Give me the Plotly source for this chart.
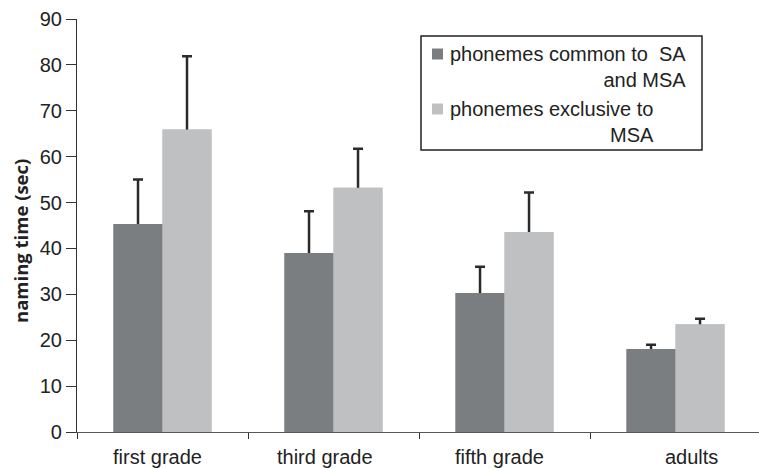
import plotly.graph_objects as go

categories = ["first grade", "third grade", "fifth grade", "adults"]
common_sa_msa = [45.3, 39.0, 30.3, 18.1]
common_err = [9.7, 9.1, 5.7, 0.9]
exclusive_msa = [65.9, 53.2, 43.6, 23.5]
exclusive_err = [16.0, 8.5, 8.6, 1.2]
series_names = ["phonemes common to\u00a0 SA<br>and MSA", "phonemes exclusive to<br>MSA"]
y_ticks = [0, 10, 20, 30, 40, 50, 60, 70, 80, 90]

DARK = "#7b7e80"
LIGHT = "#bfc0c2"
W, H = 759, 468
L, R, T, B = 77, 0, 19, 36
PW, PH = W - L - R, H - T - B


def px(x):
    return (x - L) / PW


def py(y):
    return (H - B - y) / PH


fig = go.Figure()
# error-bar carrier bars (the lower cap sits inside the bar and is hidden by the bar drawn on top)
for vals, errs, col, grp in [(common_sa_msa, common_err, DARK, "a"),
                             (exclusive_msa, exclusive_err, LIGHT, "b")]:
    fig.add_trace(go.Bar(
        x=categories, y=vals, marker_color=col, marker_line_width=0,
        offsetgroup=grp, hoverinfo="skip",
        error_y=dict(type="data", array=errs, arrayminus=[0.8] * len(errs),
                     symmetric=False, color="#2a2a2a", thickness=2.5, width=5),
    ))
fig.add_trace(go.Bar(x=categories, y=common_sa_msa, name="common", marker_color=DARK,
                     marker_line_width=0, offsetgroup="a"))
fig.add_trace(go.Bar(x=categories, y=exclusive_msa, name="exclusive", marker_color=LIGHT,
                     marker_line_width=0, offsetgroup="b"))

font_main = "Liberation Sans, Arial, sans-serif"

# x category labels as annotations (slight offsets as in the original)
label_shift = [-5, -9, -5, 16]
for cat, sh in zip(categories, label_shift):
    fig.add_annotation(x=cat, xref="x", y=0, yref="paper", yanchor="top",
                       yshift=-12, xshift=sh, text=cat, showarrow=False,
                       font=dict(family=font_main, size=20, color="#222"))

# y-axis title
fig.add_annotation(x=px(20), xref="paper", y=py(241), yref="paper",
                   text="<b>naming time (sec)</b>", textangle=-90,
                   showarrow=False, xanchor="center", yanchor="middle",
                   font=dict(family="Open Sans, sans-serif", size=18.5, color="#222"))

# manual legend
fig.add_shape(type="rect", xref="paper", yref="paper",
              x0=px(421), x1=px(702), y0=py(36), y1=py(150),
              line=dict(color="#222", width=1.5), fillcolor="white")
for (ycen, col, name) in [(54, DARK, series_names[0]), (109, LIGHT, series_names[1])]:
    fig.add_shape(type="rect", xref="paper", yref="paper",
                  x0=px(432), x1=px(443), y0=py(ycen - 5.5), y1=py(ycen + 5.5),
                  line=dict(width=0), fillcolor=col)
    fig.add_annotation(x=px(448), xref="paper", y=py(ycen + 13), yref="paper",
                       xanchor="left", yanchor="middle", align="right",
                       text=name, showarrow=False,
                       font=dict(family=font_main, size=20, color="#222"))

fig.update_layout(
    width=W, height=H,
    margin=dict(l=L, r=R, t=T, b=B, pad=0),
    paper_bgcolor="white", plot_bgcolor="white",
    barmode="group", bargap=0.427, bargroupgap=0,
    showlegend=False,
    font=dict(family=font_main, size=20, color="#222"),
)
fig.update_xaxes(
    type="category", range=[-0.5, 3.488], showgrid=False, zeroline=False,
    showline=True, linecolor="#555", linewidth=1.2,
    ticks="outside", tickson="boundaries", ticklen=6, tickcolor="#333",
    showticklabels=False,
)
fig.update_yaxes(
    range=[0, 90], tickvals=y_ticks, showgrid=False, zeroline=False,
    showline=True, linecolor="#333", linewidth=1.2,
    ticks="outside", ticklen=10, tickcolor="#333",
    tickfont=dict(family=font_main, size=20, color="#222"),
)

fig.write_html("out.html")
